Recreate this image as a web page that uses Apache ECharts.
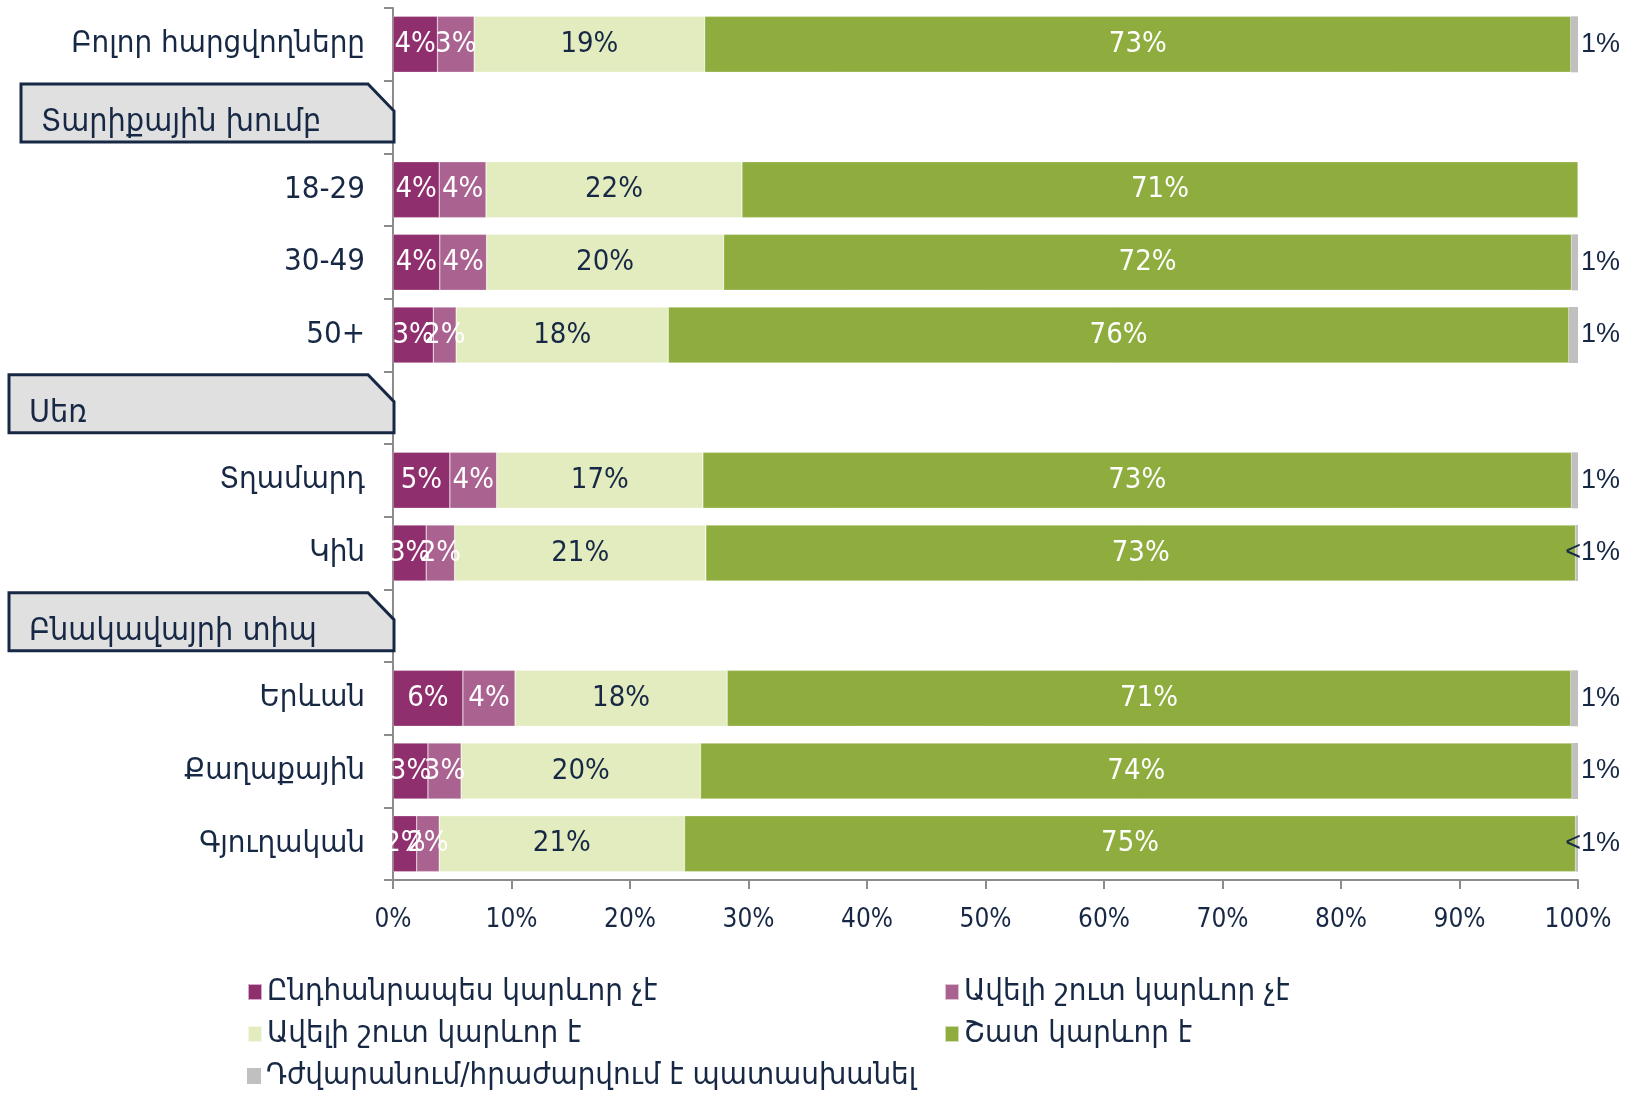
<!DOCTYPE html>
<html lang="hy">
<head>
<meta charset="utf-8" />
<title>Կարևորություն</title>
<script src="https://cdn.jsdelivr.net/npm/echarts@6/dist/echarts.min.js"></script>
<style>
  html, body { margin: 0; padding: 0; background: #fff; }
  #chart { width: 1633px; height: 1095px; }
</style>
</head>
<body>
<div id="chart"></div>
<script>
// rows, top to bottom (group headers have no bars)
var categories = ['Բոլոր հարցվողները', 'Տարիքային խումբ', '18-29', '30-49', '50+', 'Սեռ', 'Տղամարդ', 'Կին',
  'Բնակավայրի տիպ', 'Երևան', 'Քաղաքային', 'Գյուղական'];
var headers = ['Տարիքային խումբ', 'Սեռ', 'Բնակավայրի տիպ'];

var seriesNames = ['Ընդհանրապես կարևոր չէ', 'Ավելի շուտ կարևոր չէ', 'Ավելի շուտ կարևոր է', 'Շատ կարևոր է',
  'Դժվարանում/հրաժարվում է պատասխանել'];

// percent
var notAtAll   = [3.75, null, 3.9,   3.95,  3.4,  null, 4.8,  2.8,  null, 5.9,  2.95,  2.0];
var ratherNot  = [3.1,  null, 3.95,  3.95,  1.93, null, 3.95, 2.4,  null, 4.4,  2.8,   1.9];
var ratherYes  = [19.45, null, 21.6, 20.0,  17.9, null, 17.4, 21.2, null, 17.9, 20.2,  20.7];
var veryMuch   = [73.1, null, 70.55, 71.55, 76.0, null, 73.3, 73.4, null, 71.2, 73.55, 75.2];
var noAnswer   = [0.6,  null, 0,     0.55,  0.77, null, 0.55, 0.2,  null, 0.6,  0.5,   0.2];

var colors = ['#902f6e', '#aa6390', '#e3ecbf', '#8fad3e', '#c0c0c0'];
var navy = '#172845';
var font = '"DejaVu Sans Condensed", "DejaVu Sans", sans-serif';

var chart = echarts.init(document.getElementById('chart'));

function pct(p) {
  return p.value == null ? '' : Math.round(p.value) + '%';
}

function barSeries(i, data, labelColor) {
  return {
    name: seriesNames[i],
    type: 'bar',
    stack: 'all',
    barWidth: 56,
    data: data,
    itemStyle: { color: colors[i], borderColor: 'rgba(255,255,255,0.6)', borderWidth: 0.5 },
    label: {
      show: true,
      position: 'inside',
      color: labelColor,
      fontFamily: font,
      fontSize: 29,
      formatter: pct
    }
  };
}

var series = [
  barSeries(0, notAtAll, '#fff'),
  barSeries(1, ratherNot, '#fff'),
  barSeries(2, ratherYes, navy),
  barSeries(3, veryMuch, '#fff'),
  {
    name: seriesNames[4],
    type: 'bar',
    stack: 'all',
    barWidth: 56,
    data: noAnswer,
    itemStyle: { color: colors[4] },
    label: {
      show: true,
      position: 'right',
      distance: 42,
      align: 'right',
      color: navy,
      fontFamily: '"Liberation Sans", Arial, sans-serif',
      fontSize: 27,
      formatter: function (p) {
        if (!p.value) return '';
        return p.value < 0.5 ? '<1%' : Math.round(p.value) + '%';
      }
    }
  },
  {
    // group header boxes drawn on their own rows
    type: 'custom',
    clip: false,
    z: 5,
    silent: true,
    data: headers.map(function (h) { return [0, h]; }),
    encode: { x: 0, y: 1 },
    renderItem: function (params, api) {
      var p = api.coord([0, api.value(1)]);
      var right = p[0] + 1, left = params.dataIndex === 0 ? 21 : 9;
      var top = p[1] - 33, bottom = p[1] + 25;
      return {
        type: 'group',
        children: [{
          type: 'polygon',
          shape: { points: [[left, top], [right - 26, top], [right, top + 27], [right, bottom], [left, bottom]] },
          style: { fill: '#e0e0e0', stroke: navy, lineWidth: 3 }
        }, {
          type: 'text',
          x: left + 20,
          y: bottom - 3,
          style: {
            text: headers[params.dataIndex],
            fill: navy,
            font: '32px ' + font,
            verticalAlign: 'bottom'
          }
        }]
      };
    }
  }
];

var legendPos = [[247, 976], [944, 976], [247, 1018], [944, 1018], [247, 1060]];

chart.setOption({
  animation: false,
  color: colors,
  textStyle: { fontFamily: font },
  grid: { left: 393, right: 55, top: 8, bottom: 215, containLabel: false },
  legend: seriesNames.map(function (n, i) {
    return {
      data: [n],
      left: legendPos[i][0],
      top: legendPos[i][1],
      padding: 0,
      icon: 'rect',
      itemWidth: 14,
      itemHeight: 16,
      textStyle: { fontFamily: font, fontSize: 31, color: navy, lineHeight: 32 }
    };
  }),
  xAxis: {
    type: 'value',
    min: 0,
    max: 100,
    interval: 10,
    axisLine: { show: true, lineStyle: { color: '#8c8c8c', width: 2 } },
    axisTick: { show: true, length: 9, lineStyle: { color: '#8c8c8c', width: 2 } },
    splitLine: { show: false },
    axisLabel: { formatter: '{value}%', margin: 27, fontSize: 26, color: navy, fontFamily: font }
  },
  yAxis: {
    type: 'category',
    inverse: true,
    data: categories,
    axisLine: { show: true, lineStyle: { color: '#8c8c8c', width: 2 } },
    axisTick: { show: true, length: 9, lineStyle: { color: '#8c8c8c', width: 2 } },
    axisLabel: {
      margin: 28,
      fontSize: 31,
      color: navy,
      fontFamily: font,
      formatter: function (v) { return headers.indexOf(v) >= 0 ? '' : v; }
    }
  },
  series: series
});
</script>
</body>
</html>
